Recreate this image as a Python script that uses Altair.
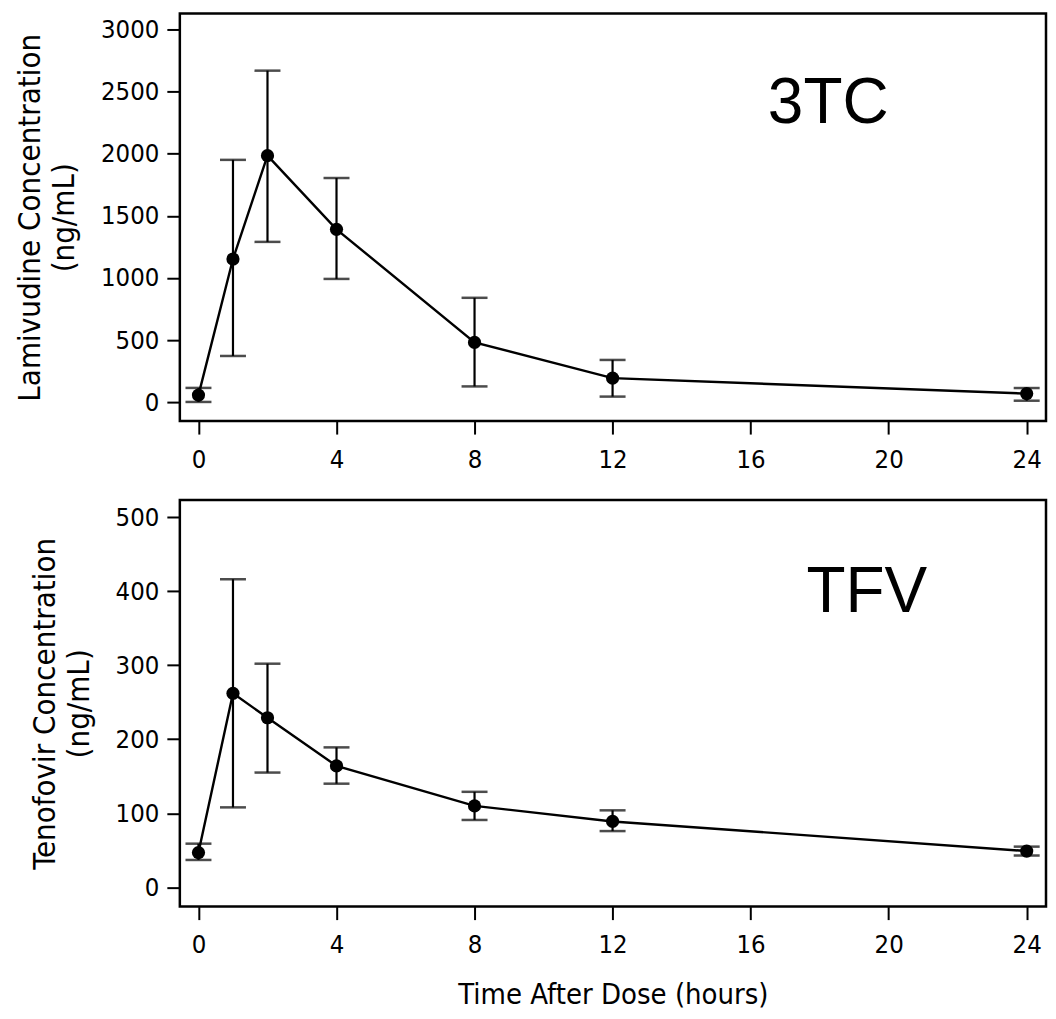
import altair as alt
import pandas as pd

# ---- data ----
time_h = [0, 1, 2, 4, 8, 12, 24]

ltc_mean = [57, 1152, 1984, 1391, 481, 194, 69]
ltc_low = [2, 372, 1290, 992, 127, 45, 12]
ltc_high = [115, 1950, 2668, 1804, 840, 340, 114]

tfv_mean = [47, 262, 229, 164, 110, 89, 49]
tfv_low = [37, 108, 155, 140, 91, 76, 43]
tfv_high = [59, 416, 302, 189, 129, 104, 55]

x_ticks = [0, 4, 8, 12, 16, 20, 24]
ltc_ticks = [0, 500, 1000, 1500, 2000, 2500, 3000]
tfv_ticks = [0, 100, 200, 300, 400, 500]

ltc_label = ["3TC"]
ltc_label_pos = [(16.5, 2250)]
tfv_label = ["TFV"]
tfv_label_pos = [(17.62, 372)]

LABEL_FONT = "DejaVu Sans Condensed"


def panel(mean, low, high, yticks, ydomain, ytitle, label, label_pos, xtitle, width, height):
    df = pd.DataFrame({"t": time_h, "m": mean, "lo": low, "hi": high})
    lab = pd.DataFrame({"txt": label, "x": [p[0] for p in label_pos], "y": [p[1] for p in label_pos]})

    xaxis_kwargs = dict(values=x_ticks, format="d", grid=False, domain=False, tickSize=13, tickWidth=2,
                        tickColor="black", labelFont=LABEL_FONT, labelFontSize=25.5,
                        labelColor="black", labelPadding=13)
    if xtitle:
        xaxis_kwargs.update(title=xtitle, titleFont=LABEL_FONT, titleFontSize=29,
                            titleFontWeight="normal", titleColor="black", titlePadding=22)
    else:
        xaxis_kwargs.update(title=None)

    xs = alt.X("t:Q", scale=alt.Scale(domain=[-0.54, 24.56], nice=False, zero=False),
               axis=alt.Axis(**xaxis_kwargs))
    ys = alt.Y("m:Q", scale=alt.Scale(domain=ydomain, nice=False, zero=False),
               axis=alt.Axis(values=yticks, format="d", grid=False, domain=False, tickSize=13,
                             tickWidth=2, tickColor="black", labelFont=LABEL_FONT,
                             labelFontSize=25.5, labelColor="black", labelPadding=8,
                             title=ytitle, titleFont=LABEL_FONT, titleFontSize=31,
                             titleFontWeight="normal", titleColor="black", titlePadding=20,
                             titleLineHeight=34))

    base = alt.Chart(df)
    line = base.mark_line(color="black", strokeWidth=2.4).encode(x=xs, y=ys)
    pts = base.mark_circle(color="black", size=175, opacity=1).encode(x="t:Q", y="m:Q")
    rules = base.mark_rule(color="black", strokeWidth=2.2).encode(x="t:Q", y="lo:Q", y2="hi:Q")
    cap_lo = base.mark_tick(color="black", orient="horizontal", size=26, thickness=2.5).encode(x="t:Q", y="lo:Q")
    cap_hi = base.mark_tick(color="black", orient="horizontal", size=26, thickness=2.5).encode(x="t:Q", y="hi:Q")
    txt = alt.Chart(lab).mark_text(align="left", baseline="alphabetic", font="Liberation Sans",
                                   fontSize=64, color="black").encode(x="x:Q", y="y:Q", text="txt:N")
    return alt.layer(rules, cap_lo, cap_hi, line, pts, txt).properties(width=width, height=height)


top = panel(ltc_mean, ltc_low, ltc_high, ltc_ticks, [-152, 3128],
            ["Lamivudine Concentration", "(ng/mL)"], ltc_label, ltc_label_pos, None, 867, 408)
bottom = panel(tfv_mean, tfv_low, tfv_high, tfv_ticks, [-26, 523],
               ["Tenofovir Concentration", "(ng/mL)"], tfv_label, tfv_label_pos,
               "Time After Dose (hours)", 867, 407)

chart = (
    alt.vconcat(top, bottom, spacing=24)
    .properties(padding={"left": 5, "top": 3, "right": 0, "bottom": 0}, background="white")
    .configure_view(stroke="black", strokeWidth=2.5)
)

chart.save("out.html", embed_options={"renderer": "svg", "actions": False})
